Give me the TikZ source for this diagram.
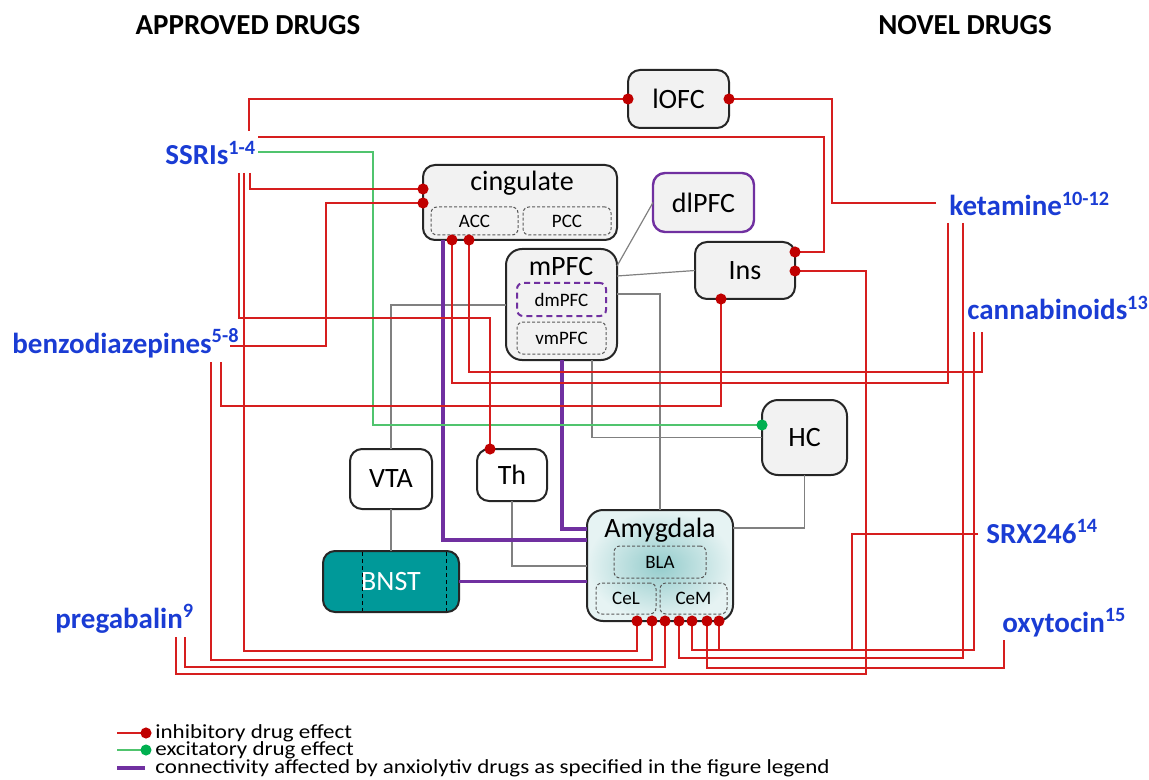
\documentclass[tikz,border=0pt]{standalone}
\usepackage{fontspec}
\setmainfont{Carlito}
\newfontfamily\legendfont[FakeStretch=1.15]{Carlito}
\usetikzlibrary{arrows.meta}

\definecolor{inhred}{RGB}{214,30,30}
\definecolor{inhdot}{RGB}{192,0,0}
\definecolor{excgreen}{RGB}{80,196,110}
\definecolor{excdot}{RGB}{0,176,80}
\definecolor{conpurple}{RGB}{112,48,160}
\definecolor{drugblue}{RGB}{26,60,212}
\definecolor{boxfill}{RGB}{242,242,242}
\definecolor{boxline}{RGB}{38,38,38}
\definecolor{linkgray}{RGB}{128,128,128}
\definecolor{bnstteal}{RGB}{0,153,153}
\definecolor{amyin}{RGB}{148,204,204}
\definecolor{amyout}{RGB}{230,243,243}

\tikzset{
  region/.style={draw=boxline, line width=1pt, fill=boxfill, rounded corners=6pt, inner sep=0pt, outer sep=0pt, font=\fontsize{14}{16}\selectfont},
  subregion/.style={draw=black!65, line width=0.5pt, dash pattern=on 1.5pt off 1pt, rounded corners=3pt, inner sep=0pt, outer sep=0pt, font=\fontsize{9.5}{11}\selectfont},
  title/.style={font=\fontsize{14}{16}\selectfont, inner sep=0pt},
  heading/.style={font=\fontsize{14.5}{17}\selectfont\bfseries},
  drug/.style={font=\fontsize{14.5}{17}\selectfont\bfseries, text=drugblue, inner sep=0pt, anchor=base west},
  legendtext/.style={font=\fontsize{10}{11}\selectfont\legendfont, inner sep=0pt, anchor=west},
  inh/.style={draw=inhred, line width=0.85pt, -{Circle[length=5.5pt, color=inhdot]}, shorten >=-2.75pt},
  exc/.style={draw=excgreen, line width=0.65pt, -{Circle[length=5.5pt, color=excdot]}, shorten >=-2.75pt},
  link/.style={draw=linkgray, line width=0.6pt},
  affected/.style={draw=conpurple, line width=1.8pt},
}

\begin{document}
\begin{tikzpicture}[x=0.5pt, y=-0.5pt]
    \useasboundingbox (0,0) rectangle (1149,780);

    % headings
    \node[heading] (approved) at (248,25) {APPROVED DRUGS};
    \node[heading] (novel) at (965,25) {NOVEL DRUGS};

    % brain regions
    \node[region, minimum width=50.5pt, minimum height=29pt] (lofc) at (678.5,99) {lOFC};
    \node[region, minimum width=97pt, minimum height=37.5pt] (cing) at (520,202.5) {};
    \node[title] (cingt) at (522,183) {cingulate};
    \node[subregion, minimum width=43.5pt, minimum height=14pt] (acc) at (474.5,221) {ACC};
    \node[subregion, minimum width=44pt, minimum height=14pt] (pcc) at (567,221) {PCC};
    \node[region, draw=conpurple, line width=1.2pt, minimum width=50.5pt, minimum height=29.5pt] (dlpfc) at (703.5,202.5) {dlPFC};
    \node[region, rounded corners=8pt, minimum width=55.5pt, minimum height=55.5pt] (mpfc) at (561.5,304.5) {};
    \node[title] (mpfct) at (561,267) {mPFC};
    \node[subregion, draw=conpurple, line width=1pt, dash pattern=on 3pt off 2pt, minimum width=44.5pt, minimum height=16.5pt] (dmpfc) at (561.5,299.5) {dmPFC};
    \node[subregion, minimum width=44.5pt, minimum height=16pt] (vmpfc) at (561.5,338) {vmPFC};
    \node[region, minimum width=50pt, minimum height=28.5pt] (ins) at (745,270.5) {Ins};
    \node[region, rounded corners=8pt, minimum width=42.5pt, minimum height=37.5pt] (hc) at (804.5,437.5) {HC};
    \node[region, fill=white, minimum width=41pt, minimum height=30pt] (vta) at (391,479) {VTA};
    \node[region, fill=white, minimum width=35pt, minimum height=26pt] (th) at (512,475) {Th};
    \node[region, fill=bnstteal, text=white, minimum width=68pt, minimum height=30.5pt] (bnst) at (391,581.5) {BNST};
    \draw[black, line width=0.5pt, dash pattern=on 2pt off 1.5pt] (362,552) -- (362,611);
    \draw[black, line width=0.5pt, dash pattern=on 2pt off 1.5pt] (446,552) -- (446,611);
    \node[region, rounded corners=8pt, inner color=amyin, outer color=amyout, minimum width=73pt, minimum height=55.5pt] (amy) at (660,565.5) {};
    \node[title] (amyt) at (660,530) {Amygdala};
    \node[subregion, minimum width=46pt, minimum height=16pt] (bla) at (660,562) {BLA};
    \node[subregion, minimum width=30pt, minimum height=15.5pt] (cel) at (626,598.5) {CeL};
    \node[subregion, minimum width=33.5pt, minimum height=15.5pt] (cem) at (693.5,598.5) {CeM};

    % drugs
    \node[drug] (ssri) at (165,165) {SSRIs\textsuperscript{1-4}};
    \node[drug] (benzo) at (12,353) {benzodiazepines\textsuperscript{5-8}};
    \node[drug] (prega) at (55,628) {pregabalin\textsuperscript{9}};
    \node[drug] (keta) at (949,216) {ketamine\textsuperscript{10-12}};
    \node[drug] (canna) at (967,320) {cannabinoids\textsuperscript{13}};
    \node[drug] (srx) at (986,543) {SRX246\textsuperscript{14}};
    \node[drug] (oxy) at (1002,632) {oxytocin\textsuperscript{15}};

    % line ends next to the drug names
    \coordinate (ssri1) at (249,131);
    \coordinate (ssri2) at (258,137);
    \coordinate (ssri3) at (258,152);
    \coordinate (ssri4) at (250,173);
    \coordinate (ssri5) at (239,173);
    \coordinate (ssri6) at (244,173);
    \coordinate (benzo1) at (230,346);
    \coordinate (benzo2) at (221,362);
    \coordinate (benzo3) at (211,362);
    \coordinate (prega1) at (185,637);
    \coordinate (prega2) at (176,637);
    \coordinate (keta1) at (936,203);
    \coordinate (keta2) at (948,223);
    \coordinate (keta3) at (963,223);
    \coordinate (canna1) at (982,332);
    \coordinate (canna2) at (974,332);
    \coordinate (srx1) at (978,534);
    \coordinate (oxy1) at (1004,640);

    % connectivity between regions
    \draw[link] (vta.north) |- (mpfc.west |- 0,305);
    \draw[link] (vta.south) -- (bnst.north);
    \draw[link] (mpfc.east |- 0,266) -- (dlpfc.west);
    \draw[link] (mpfc.east |- 0,276) -- (ins.west);
    \draw[link] (mpfc.east |- 0,294) -| (amy.north);
    \draw[link] (mpfc.south -| 592,0) |- (hc.west);
    \draw[link] (th.south) |- (amy.west |- 0,566);
    \draw[link] (hc.south) |- (amy.east |- 0,528);
    \draw[affected] (cing.south -| 443,0) |- (amy.west |- 0,540);
    \draw[affected] (mpfc.south -| 562,0) |- (amy.west |- 0,529);
    \draw[affected] (bnst.east) -- (amy.west |- bnst.east);

    % SSRIs
    \draw[inh] (ssri1) |- (lofc.west);
    \draw[inh] (ssri2) -| (824,252) -- (ins.east |- 0,252);
    \draw[exc] (ssri3) -| (373,425) -- (hc.west |- 0,425);
    \draw[inh] (ssri4) |- (cing.west |- 0,189);
    \draw[inh] (ssri5) |- (490,318) -- (th.north -| 490,0);
    \draw[inh] (ssri6) |- (637,651) -- (amy.south -| 637,0);

    % benzodiazepines
    \draw[inh] (benzo1) -| (326,203) -- (cing.west |- 0,203);
    \draw[inh] (benzo2) |- (721,406) -- (ins.south -| 721,0);
    \draw[inh] (benzo3) |- (652,660) -- (amy.south -| 652,0);

    % pregabalin
    \draw[inh] (prega1) |- (665,667) -- (amy.south -| 665,0);
    \draw[inh] (prega2) |- (866,674) |- (ins.east |- 0,271);

    % ketamine
    \draw[inh] (keta1) -| (832,99) -- (lofc.east);
    \draw[inh] (keta2) |- (452,383) -- (cing.south -| 452,0);
    \draw[inh] (keta3) |- (679,658) -- (amy.south -| 679,0);

    % cannabinoids
    \draw[inh] (canna1) |- (469,372) -- (cing.south -| 469,0);
    \draw[inh] (canna2) |- (692,650) -- (amy.south -| 692,0);

    % SRX246 and oxytocin
    \draw[inh] (srx1) -| (852,650) -| (amy.south -| 719,0);
    \draw[inh] (oxy1) |- (707,668) -- (amy.south -| 707,0);

    % legend
    \coordinate (leg1a) at (117,733); \coordinate (leg1b) at (146,733);
    \coordinate (leg2a) at (117,750); \coordinate (leg2b) at (146,750);
    \coordinate (leg3a) at (117,768); \coordinate (leg3b) at (145,768);
    \draw[inh] (leg1a) -- (leg1b);
    \draw[exc] (leg2a) -- (leg2b);
    \draw[affected] (leg3a) -- (leg3b);
    \node[legendtext] (leg1) at (155,733) {inhibitory drug effect};
    \node[legendtext] (leg2) at (155,750) {excitatory drug effect};
    \node[legendtext] (leg3) at (155,768) {connectivity affected by anxiolytiv drugs as specified in the figure legend};
\end{tikzpicture}
\end{document}
